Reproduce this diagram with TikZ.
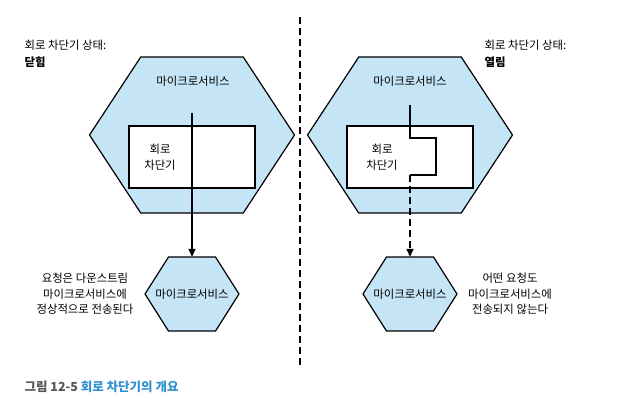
\documentclass[tikz,border=0pt]{standalone}
\usepackage{fontspec}
\setmainfont{Noto Sans CJK KR}
\usepackage{tikz}
\usetikzlibrary{arrows.meta}

\definecolor{hexblue}{HTML}{C5E5F6}
\definecolor{capgray}{HTML}{555555}
\definecolor{capblue}{HTML}{2F8FD0}

% hexagon: name, center x, center y, half width, half height
\newcommand{\hexa}[5]{%
	\draw[hexline] (#2-#4,#3) -- (#2-#4/2,#3-#5) -- (#2+#4/2,#3-#5) -- (#2+#4,#3)
		-- (#2+#4/2,#3+#5) -- (#2-#4/2,#3+#5) -- cycle;
	\node[inner sep=0, minimum width=2*#4, minimum height=2*#5] (#1) at (#2,#3) {};}

\begin{document}
\begin{tikzpicture}[x=1pt, y=-1pt]
	\tikzstyle{every node} = [font=\fontsize{11.4}{15.5}\selectfont, align=center]
	\tikzstyle{hexline} = [draw=black, line width=1.2pt, fill=hexblue, line join=miter]
	\tikzstyle{cbbox} = [draw=black, line width=1.4pt, fill=white, minimum width=126, minimum height=62, inner sep=0]
	\tikzstyle{flow} = [line width=1.3pt]
	\tikzstyle{tip} = [-{Triangle[length=8pt, width=7pt]}]
	\tikzstyle{dashline} = [dash pattern=on 7pt off 4pt]
	\useasboundingbox (0,0) rectangle (618,413);

	% closed
	\node[anchor=west] (stA) at (21,45) {회로 차단기 상태:};
	\node[anchor=west, font=\fontsize{11.4}{15.5}\selectfont\bfseries] (stA2) at (21,62) {닫힘};
	\hexa{msA}{192}{135}{102.5}{78}
	\node (msAlbl) at (193,81) {마이크로서비스};
	\node[cbbox] (cbA) at (192,157) {};
	\node (cbAlbl) at (160,157) {회로\\차단기};
	\coordinate (inA) at (192,113);
	\hexa{dsA}{192}{294}{47}{37}
	\node (dsAlbl) at (192,294) {마이크로서비스};
	\draw[flow, tip] (inA) -- (dsA.north);
	\node (noteA) at (85,294) {요청은 다운스트림\\마이크로서비스에\\정상적으로 전송된다};

	% separator
	\coordinate (sepT) at (300,17);
	\coordinate (sepB) at (300,367);
	\draw[line width=1.2pt, dashline] (sepT) -- (sepB);

	% open
	\node[anchor=west] (stB) at (481,45) {회로 차단기 상태:};
	\node[anchor=west, font=\fontsize{11.4}{15.5}\selectfont\bfseries] (stB2) at (481,62) {열림};
	\hexa{msB}{410}{135}{102.5}{78}
	\node (msBlbl) at (410,81) {마이크로서비스};
	\node[cbbox] (cbB) at (410,157) {};
	\node (cbBlbl) at (382,157) {회로\\차단기};
	\coordinate (inB) at (410,105);
	\coordinate (swB) at (410,175);
	\draw[flow, line join=miter] (inB) -- (410,138) -- (436,138) -- (436,175) -- (swB);
	\hexa{dsB}{410}{294}{47}{37}
	\node (dsBlbl) at (410,294) {마이크로서비스};
	\draw[flow, dashline, tip] (swB) -- (dsB.north);
	\node (noteB) at (510,294) {어떤 요청도\\마이크로서비스에\\전송되지 않는다};

	% caption
	\node[anchor=west, font=\fontsize{12.5}{14}\selectfont\bfseries] (cap) at (21,387)
		{\color{capgray}그림 12-5 \color{capblue}회로 차단기의 개요};
\end{tikzpicture}
\end{document}
